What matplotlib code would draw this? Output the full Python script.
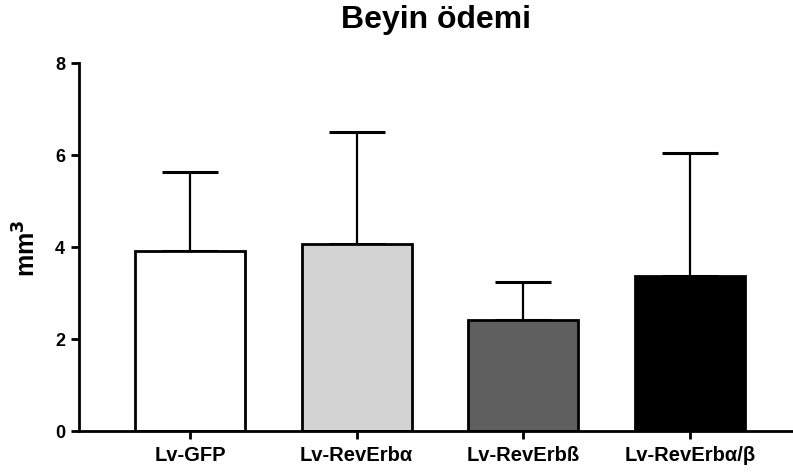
import matplotlib.pyplot as plt

plt.rcParams['font.family'] = ['Liberation Sans', 'DejaVu Sans']

# data
groups = ["Lv-GFP", "Lv-RevErbα", "Lv-RevErbß", "Lv-RevErbα/β"]
means = [3.92, 4.07, 2.42, 3.37]
sd = [1.71, 2.43, 0.82, 2.67]
colors = ["white", "#d3d3d3", "#5f5f5f", "black"]

fig = plt.figure(figsize=(7.93, 4.77), dpi=100)
ax = fig.add_axes([79 / 793, 1 - 432 / 477, (793 - 79) / 793, (432 - 64) / 477])

x = list(range(len(groups)))
ax.bar(x, means, width=0.66, color=colors, edgecolor="black", linewidth=2, zorder=2)
ax.errorbar(x, means, yerr=[[0] * len(sd), sd], fmt="none", ecolor="black",
            elinewidth=1.6, capsize=20, capthick=2.2, zorder=1)

ax.set_xlim(-0.666, 3.62)
ax.set_ylim(0, 8)
ax.set_yticks([0, 2, 4, 6, 8])
ax.set_xticks(x)
ax.set_xticklabels(groups, fontsize=14.5, fontweight="bold")
for lab in ax.get_yticklabels():
    lab.set_fontsize(13)
    lab.set_fontweight("bold")
ax.tick_params(axis="both", width=2, length=6, pad=4)

for s in ["top", "right"]:
    ax.spines[s].set_visible(False)
for s in ["left", "bottom"]:
    ax.spines[s].set_linewidth(2)

ax.set_ylabel("mm$\\mathbf{^3}$", fontsize=18, fontweight="bold", labelpad=10)
ax.set_title("Beyin ödemi", fontsize=23, fontweight="bold", pad=26)

fig.savefig("out.png", dpi=100)
